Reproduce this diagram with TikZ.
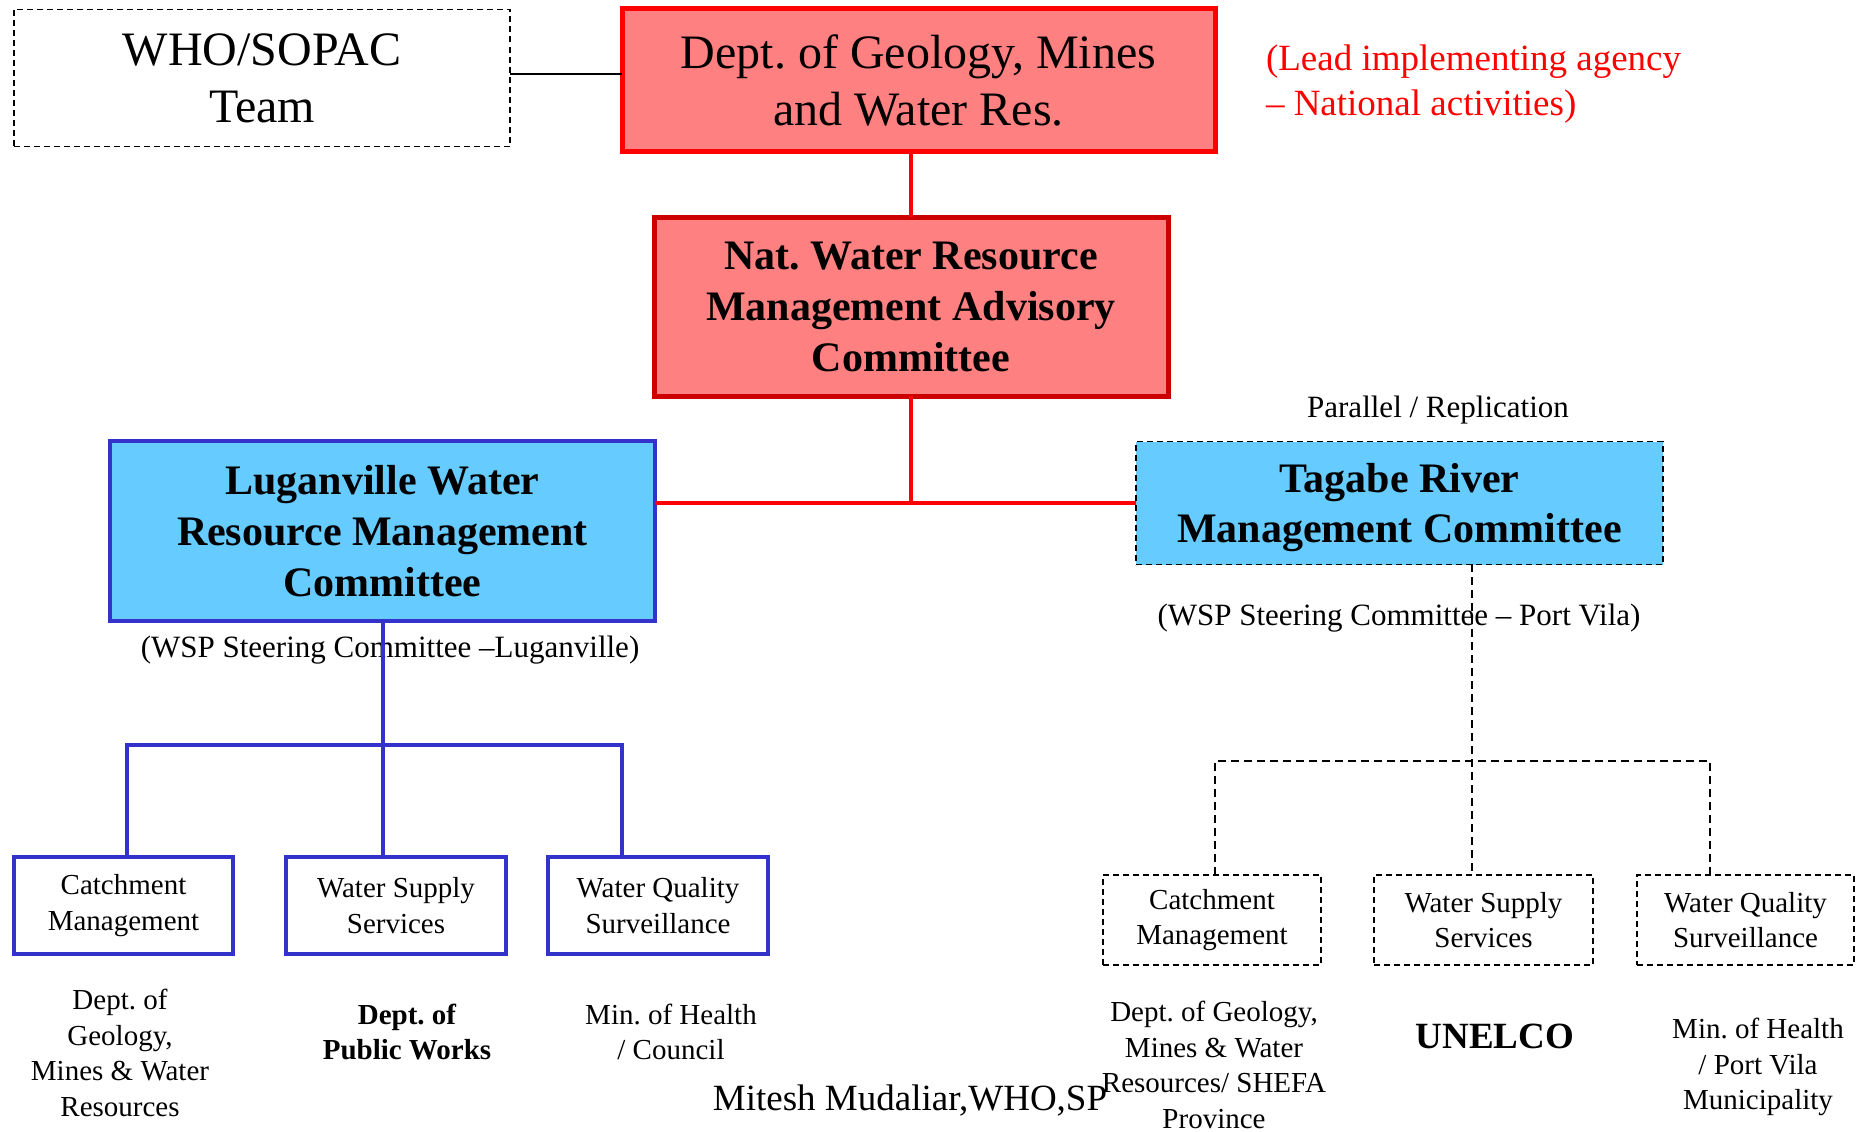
\documentclass[tikz,border=0pt]{standalone}
\usepackage{fontspec}
\setmainfont{Liberation Serif}
\frenchspacing
\definecolor{boxred}{HTML}{FF8080}
\definecolor{lineRed}{HTML}{FF0000}
\definecolor{darkRed}{HTML}{CC0000}
\definecolor{boxblue}{HTML}{66CCFF}
\definecolor{lineBlue}{HTML}{3333CC}
\tikzset{
  fs/.style n args={2}{font=\fontsize{#1}{#2}\selectfont},
  bfs/.style n args={2}{font=\fontsize{#1}{#2}\selectfont\bfseries},
  box/.style={rectangle, inner sep=0pt, outer sep=0pt, align=center},
  redbox/.style={box, fill=boxred, draw=lineRed, line width=5pt},
  darkredbox/.style={box, fill=boxred, draw=darkRed, line width=5pt},
  bluebox/.style={box, fill=boxblue, draw=lineBlue, line width=4.5pt},
  bluedash/.style={box, fill=boxblue, draw=black, line width=1.8pt, dash pattern=on 6pt off 4pt},
  whitedash/.style={box, draw=black, line width=1.8pt, dash pattern=on 6pt off 4pt},
  wbox/.style={box, fill=white, draw=lineBlue, line width=4.5pt},
  redline/.style={draw=lineRed, line width=4.5pt},
  blueline/.style={draw=lineBlue, line width=4pt},
  dashline/.style={draw=black, line width=1.8pt, dash pattern=on 8pt off 5pt},
  thinline/.style={draw=black, line width=1.8pt},
  txt/.style={inner sep=0pt, outer sep=0pt, align=center}
}
\begin{document}
\begin{tikzpicture}[x=1pt,y=-1pt]
\useasboundingbox (0,0) rectangle (1861,1132);
% top row
\node[whitedash, minimum width=496pt, minimum height=137pt, fs={48}{57}] (who) at (262,78) {WHO/SOPAC\\Team};
\node[redbox, minimum width=593pt, minimum height=142pt, fs={48}{57}] (dept) at (918.5,80) {Dept. of Geology, Mines\\and Water Res.};
\node[txt, anchor=west, align=left, text=lineRed, fs={37}{45}] (lead) at (1266,84) {(Lead implementing agency\\– National activities)};
\node[darkredbox, minimum width=514pt, minimum height=179pt, bfs={42}{51}] (nat) at (911,306.5) {Nat. Water Resource\\Management Advisory\\Committee};
% committees
\node[bluebox, minimum width=545pt, minimum height=180pt, bfs={42}{51}] (lug) at (382.5,531) {Luganville Water\\Resource Management\\Committee};
\node[bluedash, minimum width=527pt, minimum height=123pt, bfs={42}{50}, text depth=0pt] (tag) at (1399.5,503) {Tagabe River\\Management Committee};
\node[txt, fs={31}{37}] (par) at (1438,410) {Parallel / Replication};
\node[txt, fs={31}{37}] (wspl) at (390,650) {(WSP Steering Committee –Luganville)};
\node[txt, fs={31}{37}] (wspp) at (1399,618) {(WSP Steering Committee – Port Vila)};
% left sub boxes
\node[wbox, minimum width=219pt, minimum height=97pt, fs={29}{35.5}] (c1) at (123.5,905.5) {Catchment\\Management};
\node[wbox, minimum width=220pt, minimum height=97pt, fs={29}{35.5}] (s1) at (396,905.5) {Water Supply\\Services};
\node[wbox, minimum width=220pt, minimum height=97pt, fs={29}{35.5}] (q1) at (658,905.5) {Water Quality\\Surveillance};
% right sub boxes
\node[whitedash, minimum width=218pt, minimum height=90pt, fs={29}{35.5}] (c2) at (1212,920) {Catchment\\Management};
\node[whitedash, minimum width=219pt, minimum height=90pt, fs={29}{35.5}] (s2) at (1483.5,920) {Water Supply\\Services};
\node[whitedash, minimum width=217pt, minimum height=90pt, fs={29}{35.5}] (q2) at (1745.5,920) {Water Quality\\Surveillance};
% bottom texts
\node[txt, fs={29}{35.6}] (b1) at (120,1053) {Dept. of\\Geology,\\Mines \& Water\\Resources};
\node[txt, bfs={29}{35.6}] (b2) at (407,1032) {Dept. of\\Public Works};
\node[txt, fs={29}{35.6}] (b3) at (671,1032) {Min. of Health\\/ Council};
\node[txt, fs={37}{44}] (mit) at (910,1100) {Mitesh Mudaliar,WHO,SP};
\node[txt, fs={29}{35.6}] (b4) at (1214,1065) {Dept. of Geology,\\Mines \& Water\\Resources/ SHEFA\\Province};
\node[txt, bfs={37}{44}] (b5) at (1495,1036) {UNELCO};
\node[txt, fs={29}{35.6}] (b6) at (1758,1067) {Min. of Health\\/ Port Vila\\Municipality};
% connectors
\draw[thinline] ([yshift=4pt]who.east) -- ([yshift=4pt]who.east -| dept.west);
\draw[redline] (nat.north |- dept.south) -- (nat.north);
\draw[redline] (nat.south) -- (nat.south |- tag.west);
\draw[redline] (lug.east |- tag.west) -- (tag.west);
% blue tree
\coordinate (lbl) at (127,745);
\coordinate (lbr) at (622,745);
\draw[blueline] (lug.south) -- (lug.south |- s1.north);
\draw[blueline] (lbl |- c1.north) -- (lbl) -- (lbr) -- (lbr |- q1.north);
% dashed tree
\coordinate (rtop) at (1472,564);
\coordinate (rbl) at (1215,761);
\coordinate (rbr) at (1710,761);
\draw[dashline] (rtop) -- (rtop |- s2.north);
\draw[dashline] (rbl |- c2.north) -- (rbl) -- (rbr) -- (rbr |- q2.north);
\end{tikzpicture}
\end{document}
